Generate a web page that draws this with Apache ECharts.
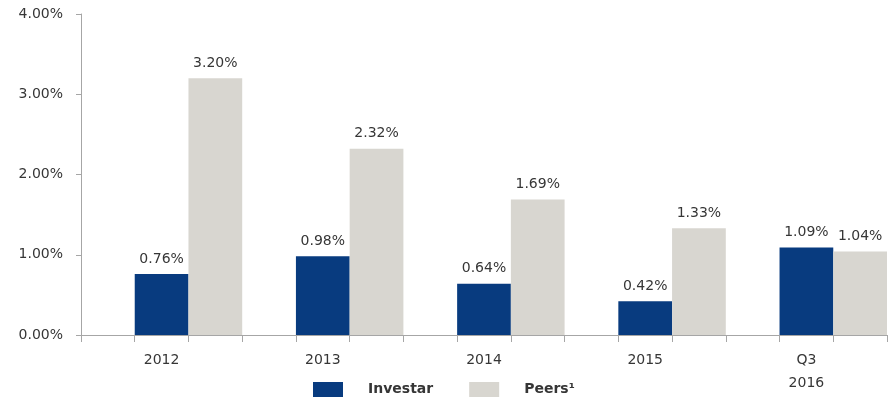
<!DOCTYPE html>
<html>
<head>
<meta charset="utf-8">
<script src="https://cdn.jsdelivr.net/npm/echarts@6/dist/echarts.min.js"></script>
<style>
  html, body { margin: 0; padding: 0; background: #ffffff; }
  #chart { width: 890px; height: 404px; }
</style>
</head>
<body>
<div id="chart"></div>
<script>
// Net charge-offs / ratio by year, Investar vs. peer group
const categories = ['2012', '2013', '2014', '2015', 'Q3\n2016'];
const investar = [0.76, 0.98, 0.64, 0.42, 1.09];
const peers = [3.20, 2.32, 1.69, 1.33, 1.04];
const yTicks = [0, 1, 2, 3, 4];

const FONT = 'DejaVu Sans';
const TEXT = '#363636';
const AXIS = '#a6a6a6';

const chart = echarts.init(document.getElementById('chart'), null, { renderer: 'canvas' });

const valueLabel = {
  show: true,
  position: 'top',
  distance: 8,
  color: TEXT,
  fontFamily: FONT,
  fontSize: 14,
  formatter: p => p.value.toFixed(2) + '%'
};

chart.setOption({
  animation: false,
  backgroundColor: '#ffffff',
  grid: { left: 81, right: 3, top: 14, bottom: 69, containLabel: false },
  legend: {
    data: ['Investar', 'Peers\u00B9'],
    left: 308,
    top: 377,
    itemWidth: 30,
    itemHeight: 15,
    itemGap: 36,
    icon: 'rect',
    textStyle: {
      color: TEXT,
      fontFamily: FONT,
      fontSize: 14,
      fontWeight: 'bold',
      padding: [0, 0, 0, 20]
    }
  },
  xAxis: [
    {
      type: 'category',
      data: categories,
      boundaryGap: true,
      axisLine: { show: false },
      axisTick: { show: false },
      axisLabel: {
        color: TEXT,
        fontFamily: FONT,
        fontSize: 14,
        lineHeight: 23,
        margin: 14
      }
    },
    {
      // fine tick marks along the baseline, three per year group
      type: 'value',
      position: 'bottom',
      min: 0,
      max: 15,
      interval: 1,
      axisLine: { show: true, onZero: false, lineStyle: { color: AXIS, width: 1 } },
      axisTick: { show: true, length: 7, lineStyle: { color: AXIS, width: 1 } },
      axisLabel: { show: false },
      splitLine: { show: false }
    }
  ],
  yAxis: {
    type: 'value',
    min: yTicks[0],
    max: yTicks[yTicks.length - 1],
    interval: 1,
    axisLine: { show: true, lineStyle: { color: AXIS, width: 1 } },
    axisTick: { show: true, length: 5, lineStyle: { color: AXIS } },
    splitLine: { show: false },
    axisLabel: {
      color: TEXT,
      fontFamily: FONT,
      fontSize: 14,
      margin: 18,
      formatter: v => v.toFixed(2) + '%'
    }
  },
  series: [
    {
      // empty leading slot in each year group
      name: 'spacer',
      type: 'bar',
      xAxisIndex: 0,
      data: categories.map(() => null),
      barGap: '0%',
      barCategoryGap: '0%',
      silent: true,
      itemStyle: { color: 'transparent' }
    },
    {
      name: 'Investar',
      type: 'bar',
      xAxisIndex: 0,
      data: investar,
      barGap: '0%',
      barCategoryGap: '0%',
      itemStyle: { color: '#083b7f' },
      label: valueLabel
    },
    {
      name: 'Peers\u00B9',
      type: 'bar',
      xAxisIndex: 0,
      data: peers,
      barGap: '0%',
      barCategoryGap: '0%',
      itemStyle: { color: '#d8d6d0' },
      label: valueLabel
    }
  ]
});
</script>
</body>
</html>
